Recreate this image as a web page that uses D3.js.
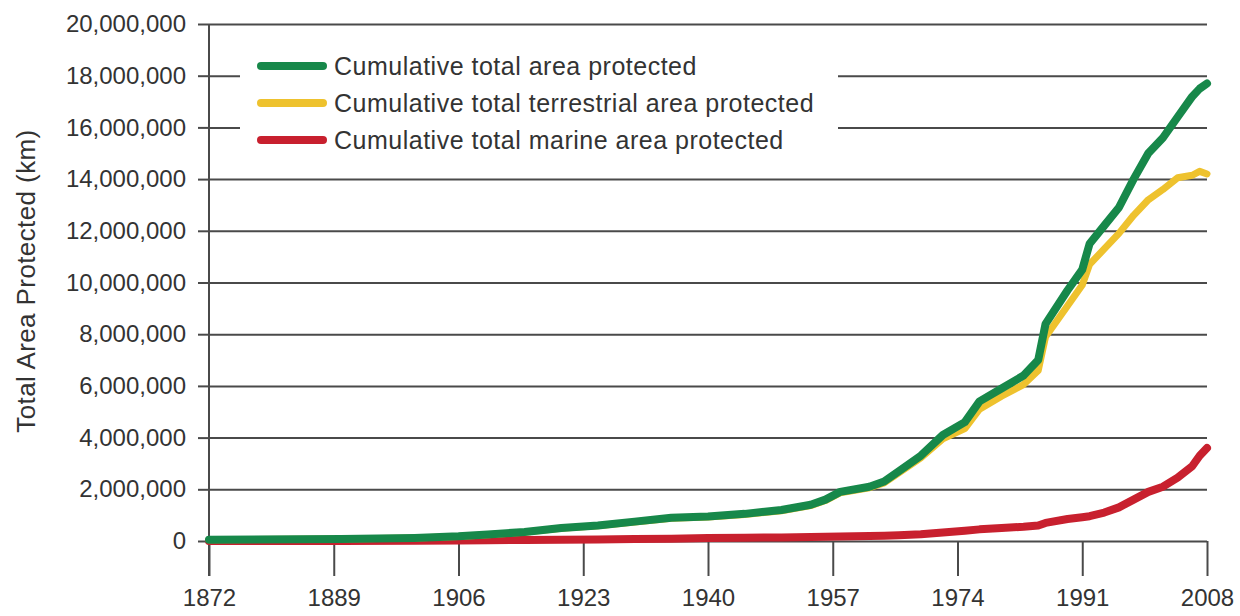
<!DOCTYPE html>
<html>
<head>
<meta charset="utf-8">
<script src="https://cdn.jsdelivr.net/npm/d3@7"></script>
<style>
  body { margin: 0; background: #fff; }
  text { font-family: "Liberation Sans", Arial, sans-serif; fill: #333; }
</style>
</head>
<body>
<div id="chart"></div>
<script>
// Data (values in km2)
// ================================
var years = [1872, 1890, 1900, 1906, 1910, 1915, 1920, 1925, 1930, 1935, 1940, 1945, 1950, 1954, 1956, 1958,
  1962, 1964, 1966, 1969, 1972, 1975, 1977, 1980, 1983, 1985, 1986, 1989, 1991, 1992, 1994, 1996, 1998,
  2000, 2002, 2004, 2006, 2007, 2008];

var totalArea = [50000, 80000, 120000, 180000, 250000, 350000, 500000, 600000, 750000, 900000, 950000,
  1050000, 1200000, 1400000, 1600000, 1900000, 2100000, 2300000, 2700000, 3300000, 4100000, 4600000,
  5400000, 5900000, 6400000, 7000000, 8400000, 9700000, 10500000, 11500000, 12200000, 12900000, 14000000,
  15000000, 15600000, 16400000, 17200000, 17500000, 17700000];

var terrestrialArea = [50000, 80000, 118000, 175000, 245000, 340000, 490000, 585000, 735000, 880000, 930000,
  1025000, 1170000, 1370000, 1565000, 1860000, 2060000, 2250000, 2640000, 3220000, 3950000, 4350000,
  5100000, 5600000, 6050000, 6600000, 7900000, 9100000, 9900000, 10700000, 11300000, 11900000, 12600000,
  13200000, 13600000, 14050000, 14150000, 14300000, 14200000];

var marineArea = [0, 0, 10000, 20000, 30000, 40000, 50000, 60000, 80000, 90000, 120000, 130000, 140000,
  150000, 160000, 170000, 190000, 200000, 220000, 260000, 330000, 400000, 450000, 500000, 550000, 600000,
  700000, 850000, 920000, 960000, 1100000, 1300000, 1600000, 1900000, 2100000, 2450000, 2900000, 3300000,
  3600000];

var xTicks = [1872, 1889, 1906, 1923, 1940, 1957, 1974, 1991, 2008];
var yTicks = d3.range(0, 20000001, 2000000);

var seriesNames = ["Cumulative total area protected",
  "Cumulative total terrestrial area protected",
  "Cumulative total marine area protected"];
var seriesColors = ["#17884a", "#eec22e", "#c8202e"];

// Set up our chart
// ================================
var svgWidth = 1240;
var svgHeight = 616;

var margin = { top: 24, right: 33, bottom: 75, left: 209 };
var width = svgWidth - margin.left - margin.right;
var height = svgHeight - margin.top - margin.bottom;

var svg = d3.select("#chart")
  .append("svg")
  .attr("width", svgWidth)
  .attr("height", svgHeight);

var chartGroup = svg.append("g")
  .attr("transform", `translate(${margin.left}, ${margin.top})`);

var xScale = d3.scaleLinear().domain([1872, 2008]).range([0, width]);
var yScale = d3.scaleLinear().domain([0, 20000000]).range([height, 0]);

// Gridlines
chartGroup.append("g")
  .call(d3.axisLeft(yScale).tickValues(yTicks).tickSize(-width).tickFormat(""))
  .call(g => g.select(".domain").remove())
  .call(g => g.selectAll("line").attr("stroke", "#4a4a4a").attr("stroke-width", 2));

// Left axis stubs and labels
chartGroup.append("g")
  .call(d3.axisLeft(yScale).tickValues(yTicks).tickSize(11).tickPadding(12).tickFormat(d3.format(",")))
  .call(g => g.select(".domain").remove())
  .call(g => g.selectAll("line").attr("stroke", "#4a4a4a").attr("stroke-width", 2))
  .call(g => g.selectAll("text").attr("font-size", "24px").style("fill", "#333"));

// Vertical axis line running below the baseline
chartGroup.append("line")
  .attr("x1", 0).attr("x2", 0)
  .attr("y1", 0).attr("y2", height + 35)
  .attr("stroke", "#4a4a4a")
  .attr("stroke-width", 2);

// Bottom axis: ticks hang below baseline
chartGroup.append("g")
  .attr("transform", `translate(0, ${height})`)
  .call(d3.axisBottom(xScale).tickValues(xTicks).tickSize(35).tickPadding(13).tickFormat(d3.format("d")))
  .call(g => g.select(".domain").remove())
  .call(g => g.selectAll("line").attr("stroke", "#4a4a4a").attr("stroke-width", 2))
  .call(g => g.selectAll("text").attr("font-size", "24px").style("fill", "#333"));

// Legend box (white, hides gridlines behind it)
var legend = chartGroup.append("g");
legend.append("rect")
  .attr("x", 31).attr("y", 16)
  .attr("width", 598).attr("height", 126)
  .attr("fill", "#fff");

seriesNames.forEach(function(name, i) {
  var ly = 42 + i * 37;
  legend.append("line")
    .attr("x1", 52).attr("x2", 114)
    .attr("y1", ly).attr("y2", ly)
    .attr("stroke", seriesColors[i])
    .attr("stroke-width", 8)
    .attr("stroke-linecap", "round");
  legend.append("text")
    .attr("x", 125)
    .attr("y", ly)
    .attr("dy", "0.35em")
    .attr("font-size", "25px")
    .attr("letter-spacing", "0.5px")
    .text(name);
});

// Lines
var seriesValues = [totalArea, terrestrialArea, marineArea];
var line = d3.line()
  .x(d => xScale(d[0]))
  .y(d => yScale(d[1]));

[2, 1, 0].forEach(function(i) {
  chartGroup.append("path")
    .datum(years.map((y, j) => [y, seriesValues[i][j]]))
    .attr("d", line)
    .attr("fill", "none")
    .attr("stroke", seriesColors[i])
    .attr("stroke-width", i === 1 ? 7 : 8)
    .attr("stroke-linejoin", "round")
    .attr("stroke-linecap", "round");
});

// Y axis title
svg.append("text")
  .attr("transform", "translate(35, 281) rotate(-90)")
  .attr("text-anchor", "middle")
  .attr("font-size", "26px")
  .attr("letter-spacing", "0.4px")
  .text("Total Area Protected (km)");
</script>
</body>
</html>
